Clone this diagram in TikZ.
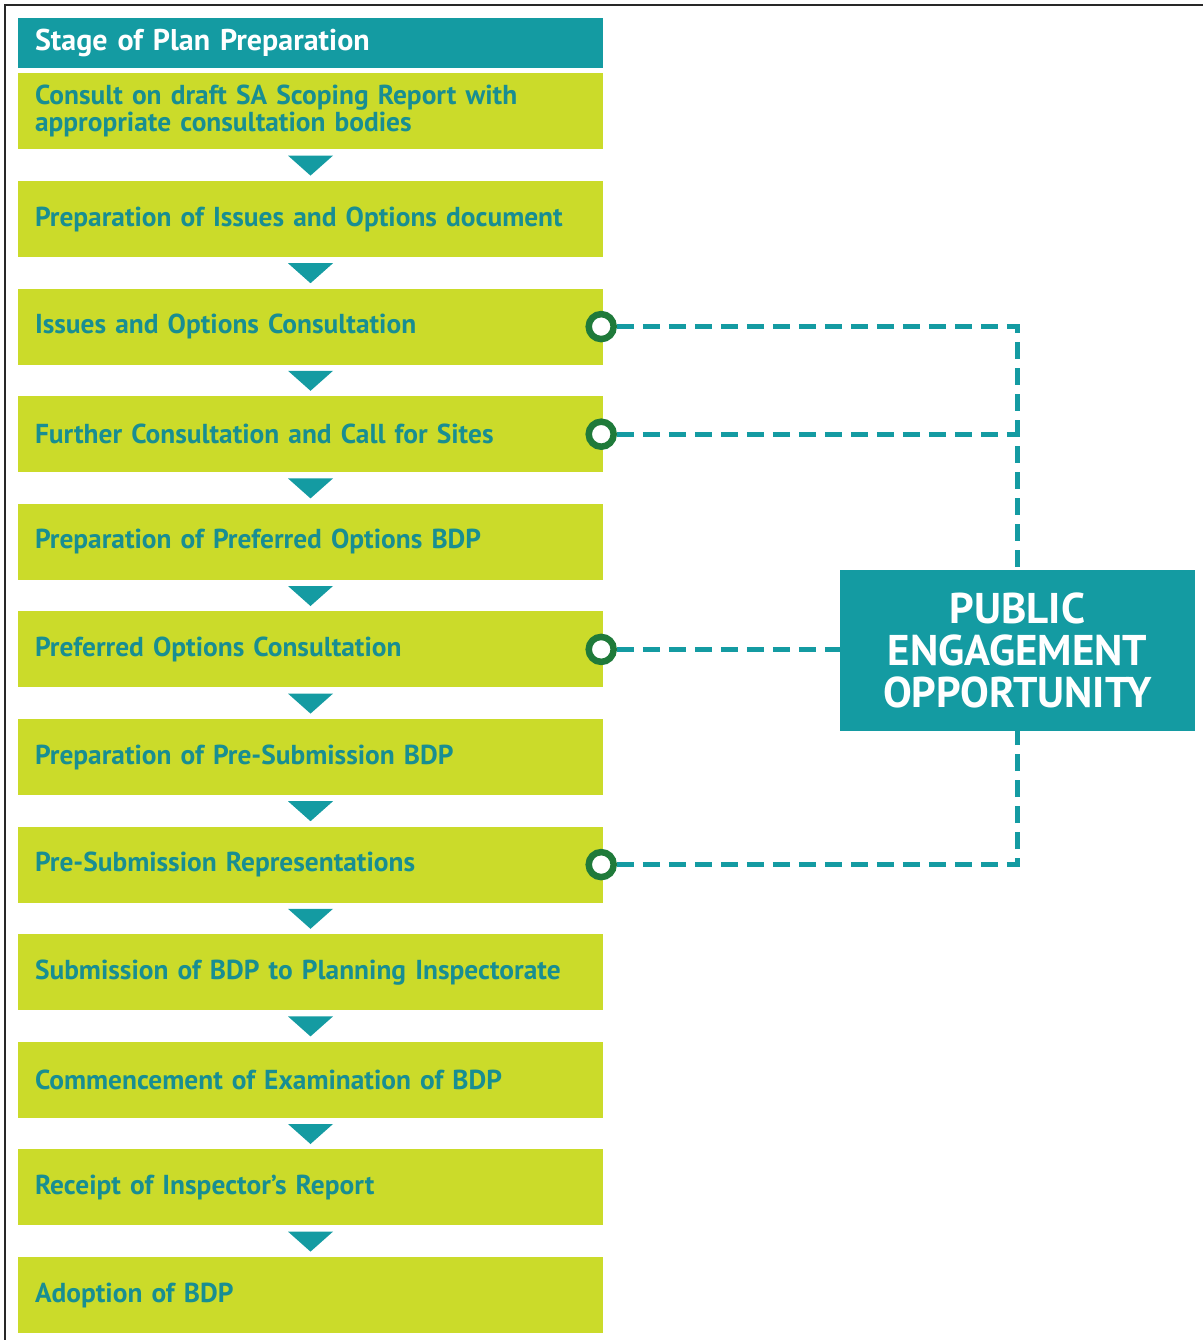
\documentclass[tikz,border=0pt]{standalone}
\usepackage{fontspec}
\setmainfont{PT Sans}
\usetikzlibrary{positioning}

\definecolor{bdpteal}{RGB}{20,155,162}
\definecolor{bdptext}{RGB}{24,142,146}
\definecolor{bdplime}{RGB}{203,219,42}
\definecolor{bdpring}{RGB}{31,122,58}
\definecolor{bdpframe}{RGB}{40,40,40}

\tikzset{
  headbox/.style={fill=bdpteal,text=white,minimum width=585pt,minimum height=50pt,
    text width=551pt,inner xsep=17pt,inner ysep=0pt,align=left,
    font=\fontsize{30}{30}\selectfont\bfseries},
  stagebox/.style={fill=bdplime,text=bdptext,minimum width=585pt,minimum height=76pt,
    text width=551pt,inner xsep=17pt,inner ysep=0pt,align=left,
    font=\fontsize{27.4}{27}\selectfont\bfseries},
  pubbox/.style={fill=bdpteal,text=white,minimum width=355pt,minimum height=161pt,
    align=center,font=\fontsize{43}{42}\selectfont\bfseries},
  ring/.style={circle,draw=bdpring,fill=white,line width=6.5pt,minimum size=25pt,inner sep=0pt},
  dashline/.style={draw=bdpteal,line width=5pt,dash pattern=on 17pt off 9pt}
}

\begin{document}
\begin{tikzpicture}[x=1pt,y=1pt,node distance=31.2pt]
\useasboundingbox (0,0) rectangle (1203,-1340);

\draw[bdpframe,line width=2.5pt] (5,-1340) -- (5,-5) -- (1203,-5);

\node[headbox] (head) at (310.5,-43) {Stage of Plan Preparation};
\node[stagebox,below=5pt of head] (st1) {Consult on draft SA Scoping Report with\\appropriate consultation bodies};

\foreach \i/\txt in {2/{Preparation of Issues and Options document},
  3/{Issues and Options Consultation},
  4/{Further Consultation and Call for Sites},
  5/{Preparation of Preferred Options BDP},
  6/{Preferred Options Consultation},
  7/{Preparation of Pre-Submission BDP},
  8/{Pre-Submission Representations},
  9/{Submission of BDP to Planning Inspectorate},
  10/{Commencement of Examination of BDP},
  11/{Receipt of Inspector's Report},
  12/{Adoption of BDP}}
{
\pgfmathtruncatemacro\prev{\i-1}
\node[stagebox,below=of st\prev] (st\i) {\txt};
\fill[bdpteal] ([xshift=-22.5pt,yshift=-6pt]st\prev.south) -- ([xshift=22.5pt,yshift=-6pt]st\prev.south)
  -- ([yshift=-26pt]st\prev.south) -- cycle;
}

\node[pubbox] (pub) at (1017.5,-650.5) {PUBLIC\\ENGAGEMENT\\OPPORTUNITY};

\foreach \r in {3,4,6,8}
{
\node[ring,xshift=-2pt] (ring\r) at (st\r.east) {};
}

\draw[dashline] (ring3.east) -- (ring3.east -| pub.north) -- (pub.north);
\draw[dashline] (ring4.east) -- (ring4.east -| pub.north);
\draw[dashline] (ring6.east) -- (ring6.east -| pub.west);
\draw[dashline] (ring8.east) -- (ring8.east -| pub.south) -- (pub.south);
\end{tikzpicture}
\end{document}
